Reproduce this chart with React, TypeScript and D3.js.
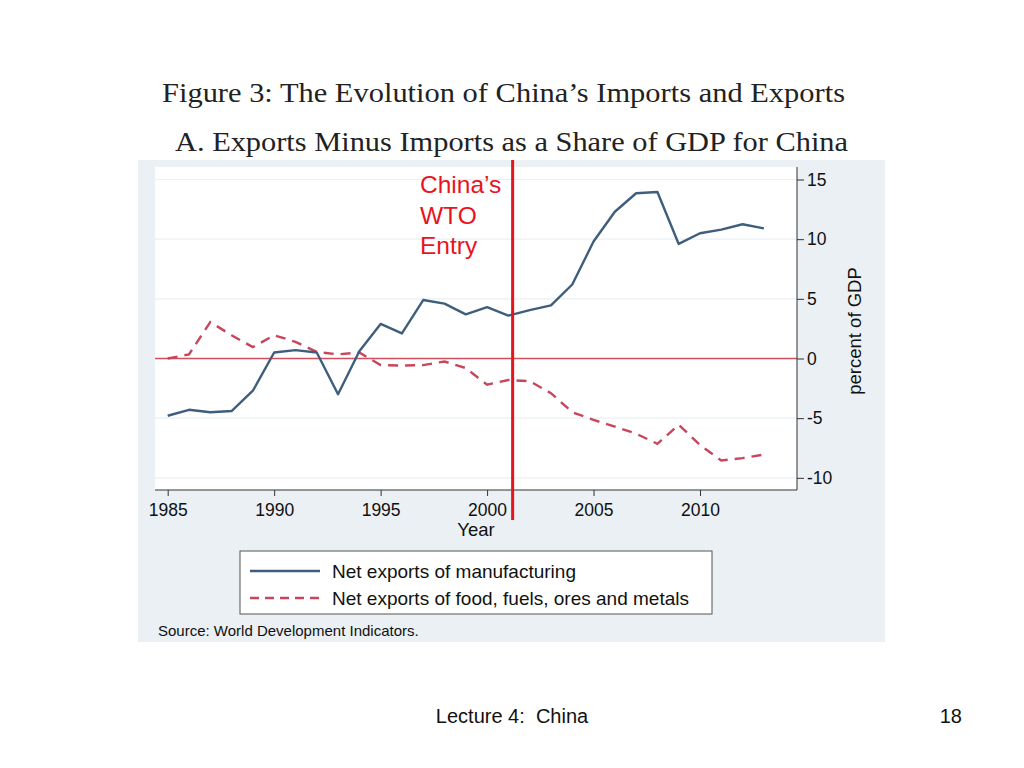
import React, { useEffect, useRef } from 'react';
import * as d3 from 'd3';

const years = d3.range(1985, 2014);
const manufacturing = [-4.8, -4.3, -4.5, -4.4, -2.7, 0.5, 0.7, 0.5, -3.0, 0.6, 2.9, 2.1, 4.9, 4.6, 3.7, 4.3, 3.6, 4.05, 4.45, 6.2, 9.8, 12.3, 13.85, 13.95, 9.6, 10.5, 10.8, 11.25, 10.9];
const foodFuels = [0.0, 0.35, 3.05, 1.95, 0.95, 1.95, 1.4, 0.55, 0.35, 0.5, -0.55, -0.6, -0.55, -0.25, -0.8, -2.2, -1.8, -1.9, -2.9, -4.5, -5.15, -5.7, -6.3, -7.15, -5.55, -7.25, -8.55, -8.35, -8.05];
const xTicks = [1985, 1990, 1995, 2000, 2005, 2010];
const yTicks = [-10, -5, 0, 5, 10, 15];
const legendItems = ['Net exports of manufacturing', 'Net exports of food, fuels, ores and metals'];
const wtoYear = 2001.2;

const BLUE = '#3f5e7e';
const PINK = '#c8465c';
const SANS = 'Liberation Sans, Arial, Helvetica, sans-serif';

export default function App() {
  const ref = useRef<SVGSVGElement>(null);

  useEffect(() => {
    const svg = d3.select(ref.current);
    svg.selectAll('*').remove();

    // titles
    svg.append('text').attr('x', 162).attr('y', 102)
      .attr('font-family', 'Liberation Serif, Times New Roman, serif').attr('font-size', 27)
      .attr('textLength', 683).attr('lengthAdjust', 'spacingAndGlyphs').attr('fill', '#222')
      .text('Figure 3: The Evolution of China\u2019s Imports and Exports');
    svg.append('text').attr('x', 175).attr('y', 151)
      .attr('font-family', 'Liberation Serif, Times New Roman, serif').attr('font-size', 27)
      .attr('textLength', 673).attr('lengthAdjust', 'spacingAndGlyphs').attr('fill', '#222')
      .text('A. Exports Minus Imports as a Share of GDP for China');

    // gray panel
    svg.append('rect').attr('x', 138).attr('y', 160).attr('width', 747).attr('height', 482).attr('fill', '#eaf0f3');

    const left = 155, right = 797, top = 167, bottom = 490;
    svg.append('rect').attr('x', left).attr('y', top).attr('width', right - left).attr('height', bottom - top).attr('fill', '#fff');

    const x = d3.scaleLinear().domain([1985, 2010]).range([167.7, 700]);
    const y = d3.scaleLinear().domain([0, 15]).range([358.5, 179.5]);

    // gridlines
    svg.append('g').selectAll('line').data(yTicks.filter(d => d !== 0)).join('line')
      .attr('x1', left).attr('x2', right).attr('y1', d => y(d)).attr('y2', d => y(d))
      .attr('stroke', '#eaf0f3').attr('stroke-width', 1.2);

    // zero line
    svg.append('line').attr('x1', left).attr('x2', right).attr('y1', y(0)).attr('y2', y(0))
      .attr('stroke', '#d0505d').attr('stroke-width', 1.3);

    // x axis
    const xAxis = svg.append('g').attr('transform', `translate(0,${bottom})`)
      .call(d3.axisBottom(x).tickValues(xTicks).tickFormat(d3.format('d')).tickSize(6).tickSizeOuter(0));
    xAxis.select('.domain').attr('d', `M${left},0H${right}`).attr('stroke', '#333');
    xAxis.selectAll('.tick line').attr('stroke', '#333');
    xAxis.selectAll('text').attr('font-family', SANS).attr('font-size', 17.5).attr('fill', '#111').attr('dy', '0.95em');
    svg.append('text').attr('x', 476).attr('y', 536).attr('text-anchor', 'middle')
      .attr('font-family', SANS).attr('font-size', 18.5).attr('fill', '#111').text('Year');

    // y axis right
    const yAxis = svg.append('g').attr('transform', `translate(${right},0)`)
      .call(d3.axisRight(y).tickValues(yTicks).tickFormat(d => String(d)).tickSize(7).tickSizeOuter(0));
    yAxis.select('.domain').attr('d', `M0,${top}V${bottom}`).attr('stroke', '#333');
    yAxis.selectAll('.tick line').attr('stroke', '#333');
    yAxis.selectAll('text').attr('font-family', SANS).attr('font-size', 17.5).attr('fill', '#111').attr('x', 10);
    svg.append('text').attr('transform', `translate(861,331) rotate(-90)`).attr('text-anchor', 'middle')
      .attr('font-family', SANS).attr('font-size', 18.5).attr('fill', '#111').text('percent of GDP');

    // lines
    const line = d3.line<number>().x((_, i) => x(years[i])).y(d => y(d));
    svg.append('path').datum(foodFuels).attr('d', line).attr('fill', 'none')
      .attr('stroke', PINK).attr('stroke-width', 2.4).attr('stroke-dasharray', '10,7');
    svg.append('path').datum(manufacturing).attr('d', line).attr('fill', 'none')
      .attr('stroke', BLUE).attr('stroke-width', 2.4).attr('stroke-linejoin', 'round');

    // WTO entry
    svg.append('line').attr('x1', x(wtoYear)).attr('x2', x(wtoYear)).attr('y1', 160).attr('y2', 520)
      .attr('stroke', '#e8141c').attr('stroke-width', 3);
    ['China\u2019s', 'WTO', 'Entry'].forEach((t, i) => {
      svg.append('text').attr('x', 420).attr('y', 193 + i * 30.5)
        .attr('font-family', SANS).attr('font-size', 24.5).attr('fill', '#e8141c').text(t);
    });

    // legend
    svg.append('rect').attr('x', 240).attr('y', 551).attr('width', 472).attr('height', 63)
      .attr('fill', '#fff').attr('stroke', '#555').attr('stroke-width', 1);
    legendItems.forEach((t, i) => {
      const ly = 571 + i * 27;
      svg.append('line').attr('x1', 250).attr('x2', 320).attr('y1', ly).attr('y2', ly)
        .attr('stroke', i === 0 ? BLUE : PINK).attr('stroke-width', 2.4)
        .attr('stroke-dasharray', i === 0 ? null : '9,6');
      svg.append('text').attr('x', 332).attr('y', ly + 6.5).attr('font-family', SANS).attr('font-size', 19)
        .attr('fill', '#111').text(t);
    });

    svg.append('text').attr('x', 158).attr('y', 636).attr('font-family', SANS).attr('font-size', 15)
      .attr('fill', '#111').text('Source: World Development Indicators.');

    // slide footer
    svg.append('text').attr('x', 512).attr('y', 723).attr('text-anchor', 'middle')
      .attr('font-family', SANS).attr('font-size', 20).attr('fill', '#111').attr('xml:space', 'preserve')
      .text('Lecture 4:  China');
    svg.append('text').attr('x', 962).attr('y', 723).attr('text-anchor', 'end')
      .attr('font-family', SANS).attr('font-size', 20).attr('fill', '#111').text('18');
  }, []);

  return (
    <svg ref={ref} width={1024} height={768}
      style={{ position: 'absolute', left: 0, top: 0, background: '#fff' }} />
  );
}
